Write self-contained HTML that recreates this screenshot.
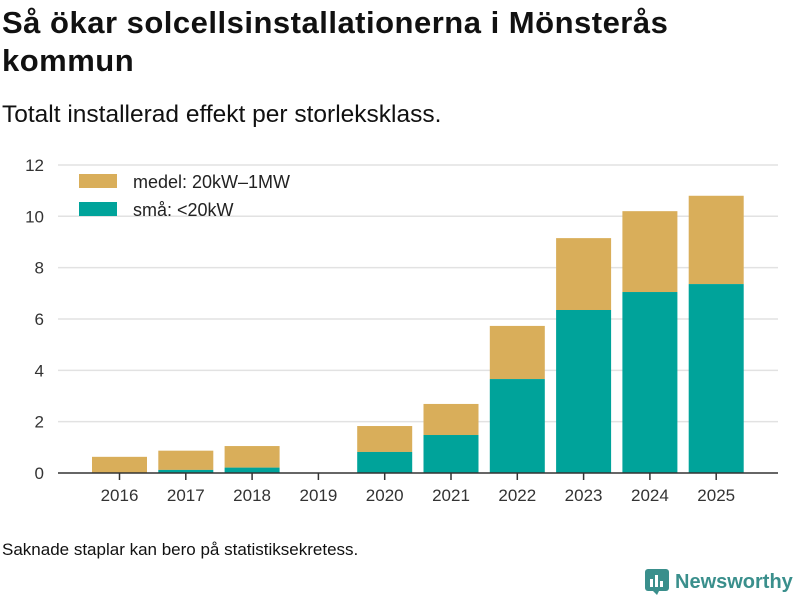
<!DOCTYPE html>
<html><head><meta charset="utf-8"><style>
body{margin:0;width:800px;height:600px;background:#fff;font-family:"Liberation Sans",sans-serif;color:#111;position:relative;overflow:hidden}
#title{position:absolute;left:2px;top:4px;font-size:31px;font-weight:bold;line-height:38px;width:720px;letter-spacing:0.5px}
#sub{position:absolute;left:2px;top:101px;font-size:24.5px}
#foot{position:absolute;left:2px;top:540px;font-size:17px}
#logo{position:absolute;left:645px;top:569px;font-size:20px;font-weight:bold;color:#3a8f8c;display:flex;align-items:center;gap:6px}
</style></head><body>
<div id="title">Så ökar solcellsinstallationerna i Mönsterås kommun</div>
<div id="sub">Totalt installerad effekt per storleksklass.</div>
<svg id="chart" width="800" height="600" style="position:absolute;left:0;top:0"></svg>
<div id="foot">Saknade staplar kan bero på statistiksekretess.</div>
<div id="logo"><svg width="24" height="26"><rect x="0" y="0" width="24" height="22" rx="3" fill="#3a8f8c"/><rect x="5" y="10" width="3" height="8" fill="#fff"/><rect x="10" y="6" width="3" height="12" fill="#fff"/><rect x="15" y="12" width="3" height="6" fill="#fff"/><path d="M8 22 L12 26 L14 22Z" fill="#3a8f8c"/></svg>Newsworthy</div>
<script>
const years=["2016","2017","2018","2019","2020","2021","2022","2023","2024","2025"];
const small=[0,0.12,0.21,0,0.82,1.48,3.66,6.35,7.05,7.36];
const medium=[0.63,0.75,0.84,0,1.01,1.21,2.07,2.8,3.15,3.44];
const yTicks=[0,2,4,6,8,10,12];
const NS="http://www.w3.org/2000/svg";
const svg=document.getElementById('chart');
const y=v=>473-v*25.67;
const x=i=>119.5+i*66.3;
const bw=55;
function mk(t,a){const e=document.createElementNS(NS,t);for(const k in a)e.setAttribute(k,a[k]);svg.appendChild(e);return e;}
yTicks.forEach(t=>{
  if(t>0){const l=mk('line',{x1:58,x2:778,y1:y(t),y2:y(t),stroke:'#e2e2e2','stroke-width':1.5});
  
  }
  const tx=mk('text',{x:44,y:y(t)+6,'text-anchor':'end','font-size':17,fill:'#333'});tx.textContent=t;
  
  
});
years.forEach((yr,i)=>{
  const s=small[i],m=medium[i];
  if(s+m>0){
    const r1=mk('rect',{x:x(i)-bw/2,y:y(s+m),width:bw,height:y(s)-y(s+m),fill:'#d9ae5a'});
    
    
    const r2=mk('rect',{x:x(i)-bw/2,y:y(s),width:bw,height:473-y(s),fill:'#00a39a'});
    
    
  }
  mk('line',{x1:x(i),x2:x(i),y1:473,y2:480,stroke:'#333','stroke-width':1.5});
  const tx=mk('text',{x:x(i),y:501,'text-anchor':'middle','font-size':17,fill:'#333'});tx.textContent=yr;
  
  
});
const ax=mk('line',{x1:58,x2:778,y1:473,y2:473,stroke:'#333','stroke-width':1.5});


[['#d9ae5a','medel: 20kW–1MW',174],['#00a39a','små: <20kW',202]].forEach(([c,l,yy],k)=>{
  const g=mk('rect',{x:79,y:yy,width:38,height:14,fill:c});
  
  
  const t=mk('text',{x:133,y:yy+14,'font-size':18,fill:'#222'});t.textContent=l;
  
  
});
</script>
</body></html>
